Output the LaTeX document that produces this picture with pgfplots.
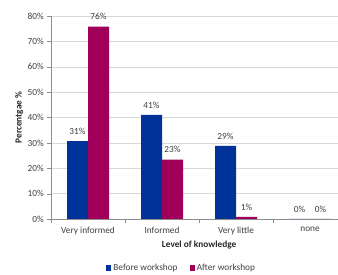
\documentclass[border=0pt]{standalone}
\usepackage{pgfplots}
\pgfplotsset{compat=1.18}
\usepackage{fontspec}
\setmainfont{Carlito}
\definecolor{barblue}{HTML}{003399}
\definecolor{barred}{HTML}{A0005A}
\definecolor{gridc}{HTML}{D9D9D9}
\definecolor{axc}{HTML}{8C8C8C}
\definecolor{txt}{HTML}{404040}
\begin{document}
\fontsize{9.3}{11}\selectfont
\begin{tikzpicture}[x=1pt,y=1pt]
\begin{axis}[
  at={(51pt,56pt)}, anchor=south west,
  scale only axis, width=287pt, height=203pt,
  /pgf/number format/assume math mode=true,
  ybar=0pt, bar width=21pt,
  xmin=-0.5, xmax=3.378, ymin=0, ymax=80,
  axis x line*=bottom, axis y line*=left,
  axis line style={draw=axc,-},
  tick align=outside,
  major tick length=4pt,
  tick style={draw=axc},
  xtick={0,1,2,3},
  xticklabels={Very informed,Informed,Very little,none},
  major x tick style={draw=none},
  extra x ticks={-0.5,0.5,1.5,2.5},
  extra x tick labels={},
  extra x tick style={major x tick style={draw=axc}, grid=none},
  ytick={0,10,...,80},
  yticklabel={\pgfmathprintnumber{\tick}\%},
  ymajorgrids, grid style={draw=gridc},
  ticklabel style={font=\fontsize{9.3}{11}\selectfont, text=txt},
  xticklabel style={yshift=-1pt},
  xlabel={Level of knowledge},
  xlabel style={at={(axis description cs:0.516,-0.128)}, anchor=center, font=\fontsize{9.3}{11}\selectfont\bfseries, text=black!85},
  ylabel={Percentgae \%},
  ylabel style={at={(axis description cs:-0.111,0.5)}, anchor=center, rotate=0, font=\fontsize{9.3}{11}\selectfont\bfseries, text=black!85},
  nodes near coords={\pgfmathprintnumber[fixed,precision=0]{\pgfplotspointmeta}\%},
  nodes near coords style={font=\fontsize{9.3}{11}\selectfont, text=txt, inner sep=0pt, anchor=south, yshift=6.5pt},
  legend style={at={(0.455,-0.241)}, anchor=center, draw=none, fill=none, legend columns=2,
    font=\fontsize{9.3}{11}\selectfont, text=txt,
    /tikz/every even column/.append style={column sep=10pt}},
  legend image code/.code={\draw[#1,/tikz/.cd,draw=none] (0pt,-2.6pt) rectangle (5.2pt,2.6pt);},
]
\addplot[fill=barblue, draw=none] coordinates {(0,30.7) (1,41.0) (2,28.8) (3,0)};
\addplot[fill=barred, draw=none] coordinates {(0,75.8) (1,23.4) (2,0.8) (3,0)};
\legend{Before workshop, After workshop}
\end{axis}
\pgfresetboundingbox
\useasboundingbox (0,0) rectangle (338,275);
\end{tikzpicture}
\end{document}
